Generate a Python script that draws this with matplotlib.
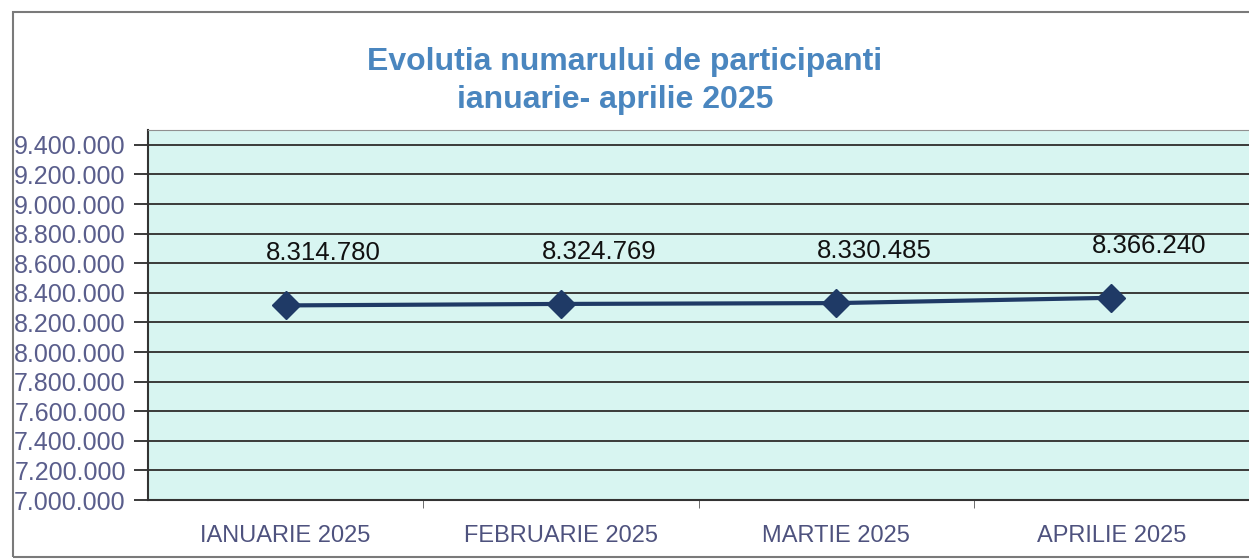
import numpy as np
import matplotlib.pyplot as plt
from matplotlib.patches import Rectangle
from matplotlib.ticker import FixedLocator, NullFormatter

# Data
months = ['IANUARIE 2025', 'FEBRUARIE 2025', 'MARTIE 2025', 'APRILIE 2025']
participants = [8314780, 8324769, 8330485, 8366240]
y_ticks = np.arange(7000000, 9400001, 200000)

def fmt_ro(v):
    return f'{v:,}'.replace(',', '.')

plt.rcParams['font.family'] = ['Liberation Sans', 'DejaVu Sans']

fig = plt.figure(figsize=(12.49, 5.60), dpi=100)
ax = fig.add_axes([148 / 1249, 60 / 560, 1 - 148 / 1249, 370 / 560])

# outer chart frame
fig.patches.append(Rectangle((13 / 1249, 3 / 560), 1.2, 545 / 560, transform=fig.transFigure,
                             fill=False, edgecolor='#7a7a7a', linewidth=1.5))

ax.set_facecolor('#d8f5f1')
x = np.arange(len(months))
ax.plot(x, participants, color='#1f3a66', linewidth=3, marker='D', markersize=14,
        markerfacecolor='#1f3a66', markeredgecolor='#1f3a66', zorder=3)

for xi, v in zip(x, participants):
    ax.annotate(fmt_ro(v), (xi, v), xytext=(38, 52), textcoords='offset pixels',
                ha='center', va='center', fontsize=18.5, color='#111111')

ax.set_xlim(-0.5, 3.5)
ax.set_ylim(7000000, 9500000)
ax.set_yticks(y_ticks)
ax.set_yticklabels([fmt_ro(v) for v in y_ticks], fontsize=18, color='#5a5e8c')
ax.grid(axis='y', color='#3a3a3a', linewidth=1.4)
ax.set_axisbelow(True)

ax.xaxis.set_major_locator(FixedLocator(x))
ax.set_xticklabels(months, fontsize=17, color='#4e527e')
ax.xaxis.set_minor_locator(FixedLocator([0.5, 1.5, 2.5]))
ax.xaxis.set_minor_formatter(NullFormatter())
ax.tick_params(axis='x', which='major', length=0, pad=18)
ax.tick_params(axis='x', which='minor', length=6, color='#555555')
ax.tick_params(axis='y', length=10, width=1.4, color='#3a3a3a', pad=6)

ax.spines['right'].set_visible(False)
ax.spines['top'].set_color('#909090')
ax.spines['left'].set_color('#333333')
ax.spines['left'].set_linewidth(1.5)
ax.spines['bottom'].set_color('#333333')
ax.spines['bottom'].set_linewidth(1.5)

fig.text(625 / 1249, 1 - 62 / 560, 'Evolutia numarului de participanti', ha='center', va='center',
         fontsize=23, fontweight='bold', color='#4a86bf')
fig.text(615 / 1249, 1 - 100 / 560, 'ianuarie- aprilie 2025', ha='center', va='center',
         fontsize=23, fontweight='bold', color='#4a86bf')

fig.savefig('out.png', dpi=100)
